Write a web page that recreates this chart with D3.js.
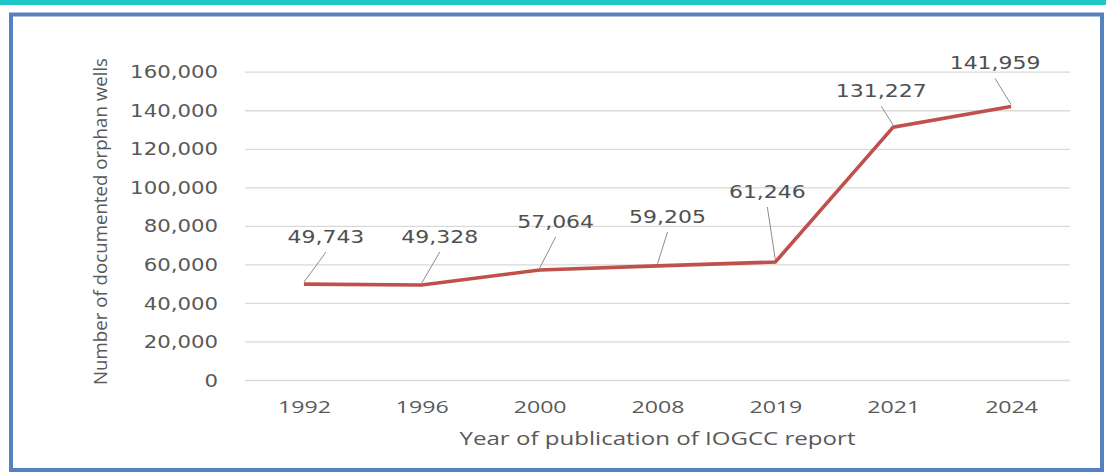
<!DOCTYPE html>
<html>
<head>
<meta charset="utf-8">
<script src="https://cdn.jsdelivr.net/npm/d3@7"></script>
<style>
  html, body { margin: 0; padding: 0; background: #ffffff; }
  svg { display: block; }
</style>
</head>
<body>
<svg id="chart" width="1106" height="475"></svg>
<script>
// ---- data ----
const years = ["1992", "1996", "2000", "2008", "2019", "2021", "2024"];
const wells = [49743, 49328, 57064, 59205, 61246, 131227, 141959];
const yTickValues = [0, 20000, 40000, 60000, 80000, 100000, 120000, 140000, 160000];
const yTitle = "Number of documented orphan wells";
const xTitle = "Year of publication of IOGCC report";
// data-label placement (pixel offsets from each point, as dragged in the original)
const labelDx = [22, 18, 16, 10, -8, -12, -16];
const labelDy = [-41, -42, -42, -43, -64, -30, -37];

// ---- layout ----
const W = 1106, H = 475;
const plot = { left: 245, right: 1070, top: 71.7, bottom: 380 };
const textColor = "#595959";

const svg = d3.select("#chart");

// teal band at top
svg.append("rect").attr("x", 0).attr("y", 0).attr("width", W).attr("height", 5).attr("fill", "#1dc8c7");
// blue frame
svg.append("rect").attr("x", 11).attr("y", 14.5).attr("width", 1091).attr("height", 455.5)
  .attr("fill", "#ffffff").attr("stroke", "#5581bf").attr("stroke-width", 4);

const x = d3.scalePoint().domain(years).range([plot.left, plot.right]).padding(0.5);
const y = d3.scaleLinear().domain([0, 160000]).range([plot.bottom, plot.top]);

function stretch(sel, k) {
  sel.each(function () {
    const w = this.getComputedTextLength();
    this.setAttribute("textLength", w * k);
    this.setAttribute("lengthAdjust", "spacingAndGlyphs");
  });
}

// y axis with gridlines
const yAxis = svg.append("g")
  .attr("transform", `translate(${plot.left},0)`)
  .call(d3.axisLeft(y).tickValues(yTickValues).tickFormat(d3.format(","))
    .tickSize(-(plot.right - plot.left)).tickPadding(27));
yAxis.select(".domain").remove();
yAxis.selectAll(".tick line").attr("stroke", "#d9d9d9").attr("stroke-width", 1.3);
yAxis.selectAll(".tick text")
  .attr("fill", textColor)
  .style("font-family", "'DejaVu Sans', sans-serif")
  .style("font-size", "17px")
  .attr("dy", "0.36em");
stretch(yAxis.selectAll(".tick text"), 1.25);

// x axis
const xAxis = svg.append("g")
  .attr("transform", `translate(0,${plot.bottom})`)
  .call(d3.axisBottom(x).tickSize(0).tickPadding(21));
xAxis.select(".domain").remove();
xAxis.selectAll(".tick text")
  .attr("fill", textColor)
  .style("font-family", "'Open Sans', sans-serif")
  .style("font-size", "17px");
stretch(xAxis.selectAll(".tick text"), 1.36);

// axis titles
svg.append("text")
  .attr("x", (plot.left + plot.right) / 2).attr("y", 445)
  .attr("text-anchor", "middle")
  .attr("fill", textColor)
  .style("font-family", "'Open Sans', sans-serif")
  .style("font-size", "18px")
  .attr("textLength", 396).attr("lengthAdjust", "spacingAndGlyphs")
  .text(xTitle);

svg.append("text")
  .attr("transform", "translate(107,221.5) rotate(-90)")
  .attr("text-anchor", "middle")
  .attr("fill", textColor)
  .style("font-family", "'Open Sans', sans-serif")
  .style("font-size", "18px")
  .attr("textLength", 327).attr("lengthAdjust", "spacingAndGlyphs")
  .text(yTitle);

// line
const pts = years.map((yr, i) => ({ yr, v: wells[i], i }));
svg.append("path")
  .datum(pts)
  .attr("fill", "none")
  .attr("stroke", "#c0504d")
  .attr("stroke-width", 3.6)
  .attr("stroke-linejoin", "miter")
  .attr("d", d3.line().x(d => x(d.yr)).y(d => y(d.v)));

// leader lines
svg.append("g").selectAll("line")
  .data(pts)
  .join("line")
  .attr("x1", d => x(d.yr) + labelDx[d.i])
  .attr("y1", d => y(d.v) + labelDy[d.i] + 9)
  .attr("x2", d => x(d.yr))
  .attr("y2", d => y(d.v) - 2)
  .attr("stroke", "#8c8c8c")
  .attr("stroke-width", 1);

// data labels
const labels = svg.append("g").selectAll("text")
  .data(pts)
  .join("text")
  .attr("x", d => x(d.yr) + labelDx[d.i])
  .attr("y", d => y(d.v) + labelDy[d.i])
  .attr("text-anchor", "middle")
  .attr("fill", "#505050")
  .style("font-family", "'DejaVu Sans', sans-serif")
  .style("font-size", "18px")
  .text(d => d3.format(",")(d.v));
stretch(labels, 1.22);
</script>
</body>
</html>
